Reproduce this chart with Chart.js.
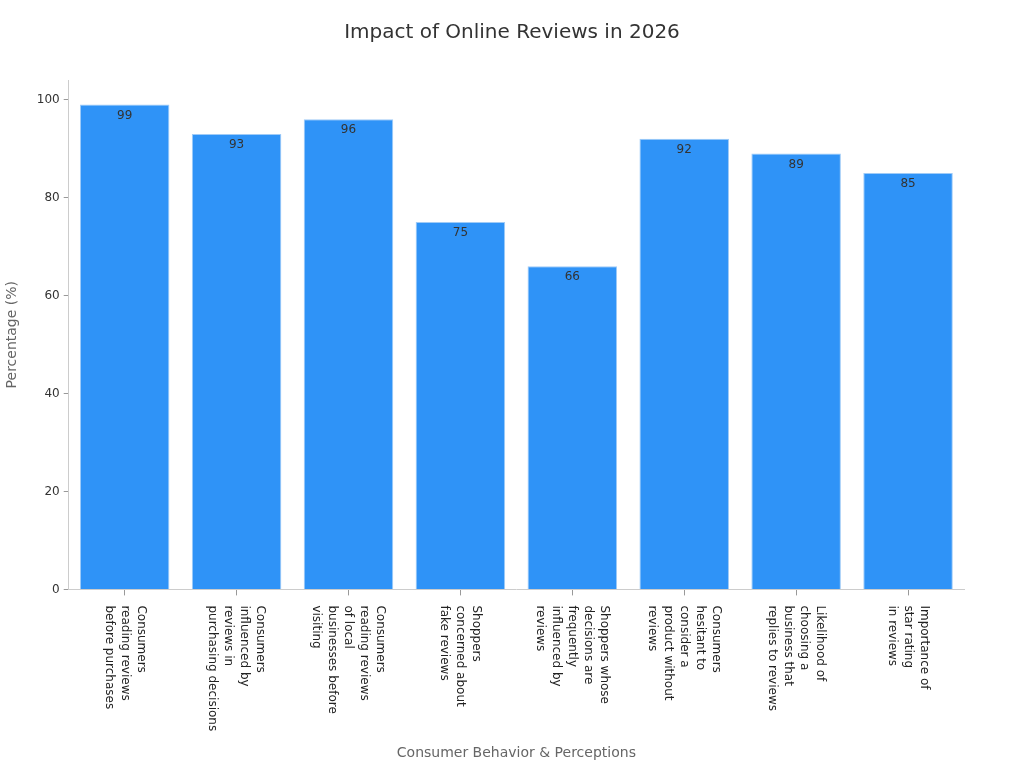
<!DOCTYPE html>
<html>
<head>
<meta charset="utf-8">
<script src="https://cdn.jsdelivr.net/npm/chart.js@4/dist/chart.umd.min.js"></script>
<style>
  html, body { margin: 0; padding: 0; background: #fff; }
  #wrap { width: 1024px; height: 768px; }
</style>
</head>
<body>
<div id="wrap"><canvas id="chart"></canvas></div>
<script>
// chart data
const categories = [
    ['Consumers', 'reading reviews', 'before purchases'],
    ['Consumers', 'influenced by', 'reviews in', 'purchasing decisions'],
    ['Consumers', 'reading reviews', 'of local', 'businesses before', 'visiting'],
    ['Shoppers', 'concerned about', 'fake reviews'],
    ['Shoppers whose', 'decisions are', 'frequently', 'influenced by', 'reviews'],
    ['Consumers', 'hesitant to', 'consider a', 'product without', 'reviews'],
    ['Likelihood of', 'choosing a', 'business that', 'replies to reviews'],
    ['Importance of', 'star rating', 'in reviews']
];
const percentages = [99, 93, 96, 75, 66, 92, 89, 85];
const yTicks = [0, 20, 40, 60, 80, 100];
const chartTitle = 'Impact of Online Reviews in 2026';

const FONT = "'DejaVu Sans', sans-serif";
Chart.defaults.font.family = FONT;

// value labels just under the top of each bar
const valueLabels = {
    id: 'valueLabels',
    afterDatasetsDraw(chart) {
        const ctx = chart.ctx;
        const meta = chart.getDatasetMeta(0);
        ctx.save();
        ctx.font = '12px ' + FONT;
        ctx.fillStyle = '#333';
        ctx.textAlign = 'center';
        ctx.textBaseline = 'middle';
        meta.data.forEach((bar, i) => {
            ctx.fillText(percentages[i], bar.x, bar.y + 11);
        });
        ctx.restore();
    }
};

// x labels rotated clockwise (reading top to bottom), title centred on the page
const rotatedLabels = {
    id: 'rotatedLabels',
    afterDraw(chart) {
        const ctx = chart.ctx;
        const xs = chart.scales.x;
        const lh = 16;
        ctx.save();
        ctx.font = '12px ' + FONT;
        ctx.fillStyle = '#222';
        ctx.textAlign = 'left';
        ctx.textBaseline = 'middle';
        categories.forEach((lines, i) => {
            const x = xs.getPixelForTick(i);
            ctx.save();
            ctx.translate(x, xs.top + 16);
            ctx.rotate(Math.PI / 2);
            lines.forEach((line, j) => {
                ctx.fillText(line, 0, (j - (lines.length - 1) / 2) * lh);
            });
            ctx.restore();
        });

        const t = chart.titleBlock;
        ctx.font = '20px ' + FONT;
        ctx.fillStyle = '#333';
        ctx.textAlign = 'center';
        ctx.fillText(chartTitle, chart.width / 2, t.top + 20 + 13);
        ctx.restore();
    }
};

new Chart(document.getElementById('chart'), {
    type: 'bar',
    data: {
        labels: categories,
        datasets: [{
            label: 'Percentage',
            data: percentages,
            backgroundColor: '#2f93f7',
            borderColor: '#9fcbf7',
            borderWidth: 1,
            categoryPercentage: 0.8,
            barPercentage: 1.0
        }]
    },
    options: {
        responsive: true,
        maintainAspectRatio: false,
        animation: false,
        layout: { padding: { left: 4, right: 60, top: 0, bottom: 6 } },
        plugins: {
            legend: { display: false },
            tooltip: { enabled: false },
            title: {
                display: true,
                text: chartTitle,
                color: 'rgba(0,0,0,0)',
                font: { size: 20, weight: 'normal' },
                padding: { top: 20, bottom: 36 }
            }
        },
        scales: {
            x: {
                grid: { display: true, offset: false, drawOnChartArea: false, drawTicks: true, tickLength: 6, color: '#999' },
                border: { color: '#ccc' },
                ticks: { color: 'rgba(0,0,0,0)', font: { size: 12 }, maxRotation: 90, minRotation: 90, padding: 9 },
                title: {
                    display: true,
                    text: 'Consumer Behavior & Perceptions',
                    color: '#666',
                    font: { size: 14 },
                    padding: { top: 6, bottom: 0 }
                }
            },
            y: {
                min: 0,
                max: 104,
                afterBuildTicks: (scale) => {
                    scale.ticks = yTicks.map(v => ({ value: v }));
                },
                grid: { display: true, drawOnChartArea: false, drawTicks: true, tickLength: 5, color: '#999' },
                border: { color: '#ccc' },
                ticks: { color: '#333', font: { size: 12 }, padding: 4 },
                title: {
                    display: true,
                    text: 'Percentage (%)',
                    color: '#666',
                    font: { size: 14 },
                    padding: { top: 0, bottom: 12 }
                }
            }
        }
    },
    plugins: [valueLabels, rotatedLabels]
});
</script>
</body>
</html>
